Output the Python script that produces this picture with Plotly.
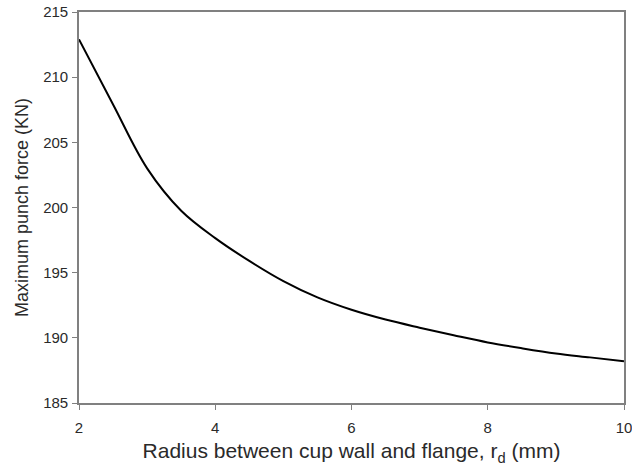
import plotly.graph_objects as go

radius_mm = [2, 2.5, 3, 3.5, 4, 4.5, 5, 5.5, 6, 6.5, 7, 7.5, 8, 8.5, 9, 9.5, 10]
punch_force_kn = [212.9, 207.9, 203.0, 199.75, 197.65, 195.9, 194.35, 193.1, 192.15, 191.4,
                  190.78, 190.2, 189.65, 189.2, 188.8, 188.5, 188.2]

x_ticks = [2, 4, 6, 8, 10]
y_ticks = [185, 190, 195, 200, 205, 210, 215]

FONT = "Liberation Sans, Arial, sans-serif"

fig = go.Figure()
fig.add_trace(go.Scatter(
    x=radius_mm, y=punch_force_kn, mode="lines",
    line=dict(color="black", width=2, shape="spline", smoothing=1.0),
    showlegend=False, hoverinfo="skip",
))

axis_common = dict(
    showgrid=False, zeroline=False, showline=True, linecolor="#808080", linewidth=1.6,
    mirror=True, ticks="outside", ticklen=5, tickwidth=1.2, tickcolor="#808080",
    tickfont=dict(family=FONT, size=15, color="#2a2a2a"), automargin=False,
    ticklabeloverflow="allow",
)

fig.update_xaxes(range=[2, 10], tickvals=x_ticks, ticklabelstandoff=5,
                 title=dict(text="Radius between cup wall and flange, r<sub>d</sub> (mm)",
                            font=dict(family=FONT, size=21, color="#2a2a2a"),
                            standoff=9),
                 **axis_common)
fig.update_yaxes(range=[185, 215], tickvals=y_ticks, ticklabelstandoff=1,
                 title=dict(text="Maximum punch force (KN)",
                            font=dict(family=FONT, size=18, color="#2a2a2a"),
                            standoff=10),
                 **axis_common)

fig.update_layout(
    width=632, height=470,
    margin=dict(l=79, r=8, t=12, b=67),
    plot_bgcolor="white", paper_bgcolor="white",
)

fig.write_html("out.html", config={"displayModeBar": False},
               post_script="document.body.style.margin='0';document.body.style.overflow='hidden';")
